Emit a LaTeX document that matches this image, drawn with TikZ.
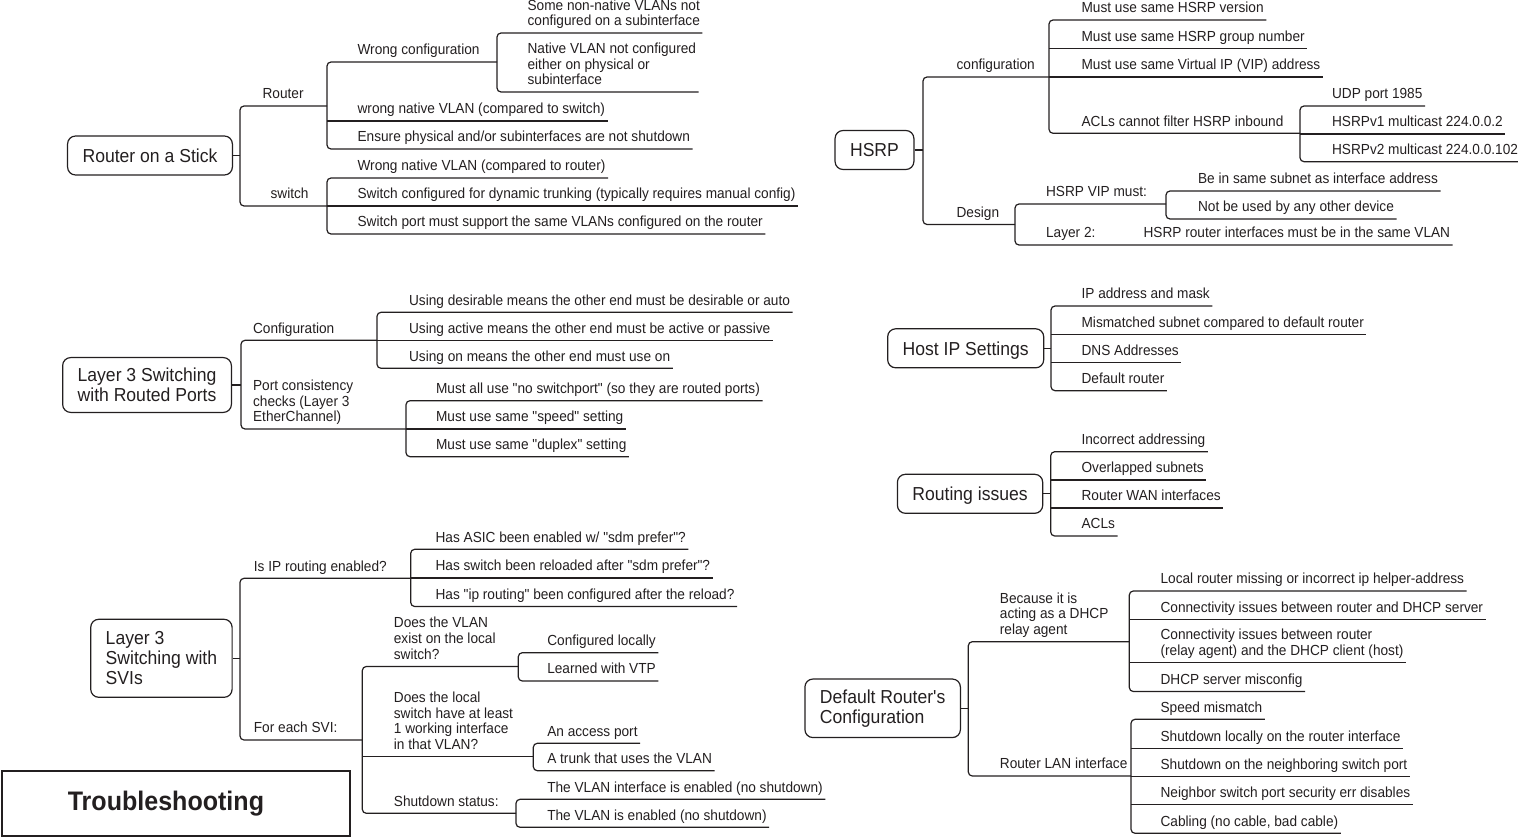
\documentclass[tikz,border=0pt]{standalone}
\usepackage{fontspec}
\setmainfont{Liberation Sans}[FakeStretch=0.935, Ligatures=TeXOff]
\usepackage{xcolor}
\definecolor{ink}{RGB}{35,31,32}
\newcommand\leaffont{\fontsize{14.6}{15.7}\selectfont}
\newcommand\topicfont{\fontsize{18.8}{20}\selectfont}
\newcommand\titlefont{\fontsize{26.8}{30}\selectfont\bfseries}
\tikzstyle{leaf} = [anchor=south west, inner xsep=2pt, inner ysep=1.9pt, text depth=4.7pt, font=\leaffont]
\tikzstyle{leafm} = [anchor=south west, inner xsep=2pt, inner ysep=1.9pt, align=left, font=\leaffont]
\tikzstyle{topic} = [draw, rounded corners=8pt, anchor=east, inner xsep=15pt, inner ysep=10.5pt,
    minimum height=39pt, text depth=0pt, font=\topicfont]
\tikzstyle{topicm} = [draw, rounded corners=8pt, anchor=east, inner xsep=15pt, inner ysep=10.5pt,
    minimum height=39pt, font=\topicfont]
\tikzstyle{headbox} = [draw, line width=1.5pt, minimum width=348pt, minimum height=65pt, inner sep=0pt, font=\titlefont]
\tikzstyle{line} = [draw]
\tikzstyle{tie} = [draw, rounded corners=4pt]

\begin{document}
\begin{tikzpicture}[x=1pt, y=-1pt, line width=1.2pt, color=ink]
	\useasboundingbox (0,0) rectangle (1518,837);

	% router on a stick
	\node [topic] (ros) at (233,155.5) {Router on a Stick};
	\node [leaf] (rtr) at (260,106) {Router};
	\node [leaf] (sw) at (268,206) {switch};
	\node [leaf] (wcf) at (355,62) {Wrong configuration};
	\node [leafm] (snn) at (525,33) {Some non-native VLANs not\\configured on a subinterface\strut};
	\node [leafm] (nvn) at (525,92) {Native VLAN not configured\\either on physical or\\subinterface\strut};
	\node [leaf] (wnv) at (355,121) {wrong native VLAN (compared to switch)};
	\node [leaf] (eps) at (355,149) {Ensure physical and/or subinterfaces are not shutdown};
	\node [leaf] (wnr) at (355,178) {Wrong native VLAN (compared to router)};
	\node [leaf] (scd) at (355,206) {Switch configured for dynamic trunking (typically requires manual config)};
	\node [leaf] (spm) at (355,234) {Switch port must support the same VLANs configured on the router};

	\path [line] (ros.east) -- (ros.east -| 240,0);
	\path [tie] (rtr.south -| 327,0) -- (rtr.south -| 240,0) |- (sw.south -| 327,0);
	\path [tie] (wcf.south -| 497,0) -- (wcf.south -| 327,0) |- (eps.south east);
	\path [line] (wnv.south -| 327,0) -- (wnv.south east);
	\path [tie] (snn.south east) -- (snn.south -| 497,0) |- (nvn.south east);
	\path [tie] (wnr.south east) -- (wnr.south -| 327,0) |- (spm.south east);
	\path [line] (scd.south -| 327,0) -- (scd.south east);

	% hsrp
	\node [topic] (hsrp) at (914.5,150) {HSRP};
	\node [leaf] (cfg) at (954,77) {configuration};
	\node [leaf] (dsg) at (954,224.5) {Design};
	\node [leaf] (hv) at (1079,20) {Must use same HSRP version};
	\node [leaf] (hg) at (1079,48.7) {Must use same HSRP group number};
	\node [leaf] (hvip) at (1079,77) {Must use same Virtual IP (VIP) address};
	\node [leaf] (acl) at (1079,133.3) {ACLs cannot filter HSRP inbound};
	\node [leaf] (udp) at (1329.5,106) {UDP port 1985};
	\node [leaf] (v1) at (1329.5,134) {HSRPv1 multicast 224.0.0.2};
	\node [leaf] (v2) at (1329.5,161.7) {HSRPv2 multicast 224.0.0.102};
	\node [leaf] (vip) at (1043.5,204) {HSRP VIP must:};
	\node [leaf] (l2) at (1043.5,245) {Layer 2:};
	\node [leaf] (bis) at (1195.5,191) {Be in same subnet as interface address};
	\node [leaf] (nbu) at (1195.5,219) {Not be used by any other device};
	\node [leaf] (hri) at (1141,245) {HSRP router interfaces must be in the same VLAN};

	\path [line] (hsrp.east) -- (hsrp.east -| 923,0);
	\path [tie] (cfg.south -| 1049,0) -- (cfg.south -| 923,0) |- (dsg.south -| 1015,0);
	\path [tie] (hv.south east) -- (hv.south -| 1049,0) |- (acl.south -| 1300,0);
	\path [line] (hg.south -| 1049,0) -- (hg.south east);
	\path [line] (hvip.south -| 1049,0) -- (hvip.south east);
	\path [tie] (udp.south east) -- (udp.south -| 1300,0) |- (v2.south east);
	\path [line] (v1.south -| 1300,0) -- (v1.south east);
	\path [tie] (vip.south -| 1166,0) -- (vip.south -| 1015,0) |- (hri.south east);
	\path [tie] (bis.south east) -- (bis.south -| 1166,0) |- (nbu.south east);

	% layer 3 routed ports
	\node [topicm, align=center] (l3r) at (232,385) {Layer 3 Switching\\with Routed Ports};
	\node [leaf] (cnf) at (250.5,340.3) {Configuration};
	\node [leafm] (pcc) at (250.5,429) {Port consistency\\checks (Layer 3\\EtherChannel)\strut};
	\node [leaf] (ud) at (406.5,312.3) {Using desirable means the other end must be desirable or auto};
	\node [leaf] (ua) at (406.5,340.3) {Using active means the other end must be active or passive};
	\node [leaf] (uo) at (406.5,368.3) {Using on means the other end must use on};
	\node [leaf] (mns) at (433.5,400.7) {Must all use "no switchport" (so they are routed ports)};
	\node [leaf] (msp) at (433.5,429) {Must use same "speed" setting};
	\node [leaf] (mdx) at (433.5,456.7) {Must use same "duplex" setting};

	\path [line] (l3r.east) -- (l3r.east -| 241,0);
	\path [tie] (cnf.south -| 377,0) -- (cnf.south -| 241,0) |- (pcc.south -| 406,0);
	\path [tie] (ud.south east) -- (ud.south -| 377,0) |- (uo.south east);
	\path [line] (ua.south -| 377,0) -- (ua.south east);
	\path [tie] (mns.south east) -- (mns.south -| 406,0) |- (mdx.south east);
	\path [line] (msp.south -| 406,0) -- (msp.south east);

	% layer 3 svis
	\node [topicm, align=left, minimum height=78pt] (svi) at (232.7,658.3) {Layer 3\\Switching with\\SVIs};
	\node [leaf] (ipr) at (251.3,578.3) {Is IP routing enabled?};
	\node [leaf] (fes) at (251.3,740) {For each SVI:};
	\node [leaf] (asic) at (433,549.3) {Has ASIC been enabled w/ "sdm prefer"?};
	\node [leaf] (rld) at (433,578) {Has switch been reloaded after "sdm prefer"?};
	\node [leaf] (ipc) at (433,606.5) {Has "ip routing" been configured after the reload?};
	\node [leafm] (dve) at (391.3,666.5) {Does the VLAN\\exist on the local\\switch?\strut};
	\node [leafm] (dls) at (391.3,756.7) {Does the local\\switch have at least\\1 working interface\\in that VLAN?\strut};
	\node [leaf] (sds) at (391.3,813.3) {Shutdown status:};
	\node [leaf] (cl) at (544.7,652.7) {Configured locally};
	\node [leaf] (lv) at (544.7,681) {Learned with VTP};
	\node [leaf] (ap) at (544.7,743.3) {An access port};
	\node [leaf] (tk) at (544.7,770.7) {A trunk that uses the VLAN};
	\node [leaf] (vie) at (544.7,799.3) {The VLAN interface is enabled (no shutdown)};
	\node [leaf] (vle) at (544.7,827.3) {The VLAN is enabled (no shutdown)};

	\path [line] (svi.east) -- (svi.east -| 240,0);
	\path [tie] (ipr.south -| 410.7,0) -- (ipr.south -| 240,0) |- (fes.south -| 362.3,0);
	\path [tie] (asic.south east) -- (asic.south -| 410.7,0) |- (ipc.south east);
	\path [line] (rld.south -| 410.7,0) -- (rld.south east);
	\path [tie] (dve.south -| 518.3,0) -- (dve.south -| 362.3,0) |- (sds.south -| 516,0);
	\path [line] (dls.south -| 362.3,0) -- (dls.south -| 533.3,0);
	\path [tie] (cl.south east) -- (cl.south -| 518.3,0) |- (lv.south east);
	\path [tie] (ap.south east) -- (ap.south -| 533.3,0) |- (tk.south east);
	\path [tie] (vie.south east) -- (vie.south -| 516,0) |- (vle.south east);

	% host ip settings
	\node [topic] (host) at (1044.3,348.3) {Host IP Settings};
	\node [leaf] (ipm) at (1079,306) {IP address and mask};
	\node [leaf] (msc) at (1079,334.3) {Mismatched subnet compared to default router};
	\node [leaf] (dns) at (1079,362.7) {DNS Addresses};
	\node [leaf] (dfr) at (1079,390.7) {Default router};

	\path [line] (host.east) -- (host.east -| 1051,0);
	\path [tie] (ipm.south east) -- (ipm.south -| 1051,0) |- (dfr.south east);
	\path [line] (msc.south -| 1051,0) -- (msc.south east);
	\path [line] (dns.south -| 1051,0) -- (dns.south east);

	% routing issues
	\node [topic] (rti) at (1043.3,493.8) {Routing issues};
	\node [leaf] (ica) at (1079,451.7) {Incorrect addressing};
	\node [leaf] (ovs) at (1079,480) {Overlapped subnets};
	\node [leaf] (wan) at (1079,508) {Router WAN interfaces};
	\node [leaf] (acls) at (1079,536) {ACLs};

	\path [line] (rti.east) -- (rti.east -| 1050.7,0);
	\path [tie] (ica.south east) -- (ica.south -| 1050.7,0) |- (acls.south east);
	\path [line] (ovs.south -| 1050.7,0) -- (ovs.south east);
	\path [line] (wan.south -| 1050.7,0) -- (wan.south east);

	% default router
	\node [topicm, align=left] (drc) at (961,708.3) {Default Router's\\Configuration};
	\node [leafm] (dhc) at (997.3,641.7) {Because it is\\acting as a DHCP\\relay agent\strut};
	\node [leaf] (lan) at (997.3,776) {Router LAN interface};
	\node [leaf] (lrm) at (1158,591) {Local router missing or incorrect ip helper-address};
	\node [leaf] (cbs) at (1158,619.3) {Connectivity issues between router and DHCP server};
	\node [leafm] (cbc) at (1158,662.7) {Connectivity issues between router\\(relay agent) and the DHCP client (host)\strut};
	\node [leaf] (dsm) at (1158,691.5) {DHCP server misconfig};
	\node [leaf] (spd) at (1158,719.3) {Speed mismatch};
	\node [leaf] (sdl) at (1158,748.3) {Shutdown locally on the router interface};
	\node [leaf] (sdn) at (1158,776.3) {Shutdown on the neighboring switch port};
	\node [leaf] (nsp) at (1158,804.3) {Neighbor switch port security err disables};
	\node [leaf] (cab) at (1158,833.3) {Cabling (no cable, bad cable)};

	\path [line] (drc.east) -- (drc.east -| 968.3,0);
	\path [tie] (dhc.south -| 1129.3,0) -- (dhc.south -| 968.3,0) |- (lan.south -| 1131,0);
	\path [tie] (lrm.south east) -- (lrm.south -| 1129.3,0) |- (dsm.south east);
	\path [line] (cbs.south -| 1129.3,0) -- (cbs.south east);
	\path [line] (cbc.south -| 1129.3,0) -- (cbc.south east);
	\path [tie] (spd.south east) -- (spd.south -| 1131,0) |- (cab.south east);
	\path [line] (sdl.south -| 1131,0) -- (sdl.south east);
	\path [line] (sdn.south -| 1131,0) -- (sdn.south east);
	\path [line] (nsp.south -| 1131,0) -- (nsp.south east);

	% title
	\node [headbox] (trb) at (175.9,803.4) {Troubleshooting\hspace*{20pt}};
\end{tikzpicture}
\end{document}
